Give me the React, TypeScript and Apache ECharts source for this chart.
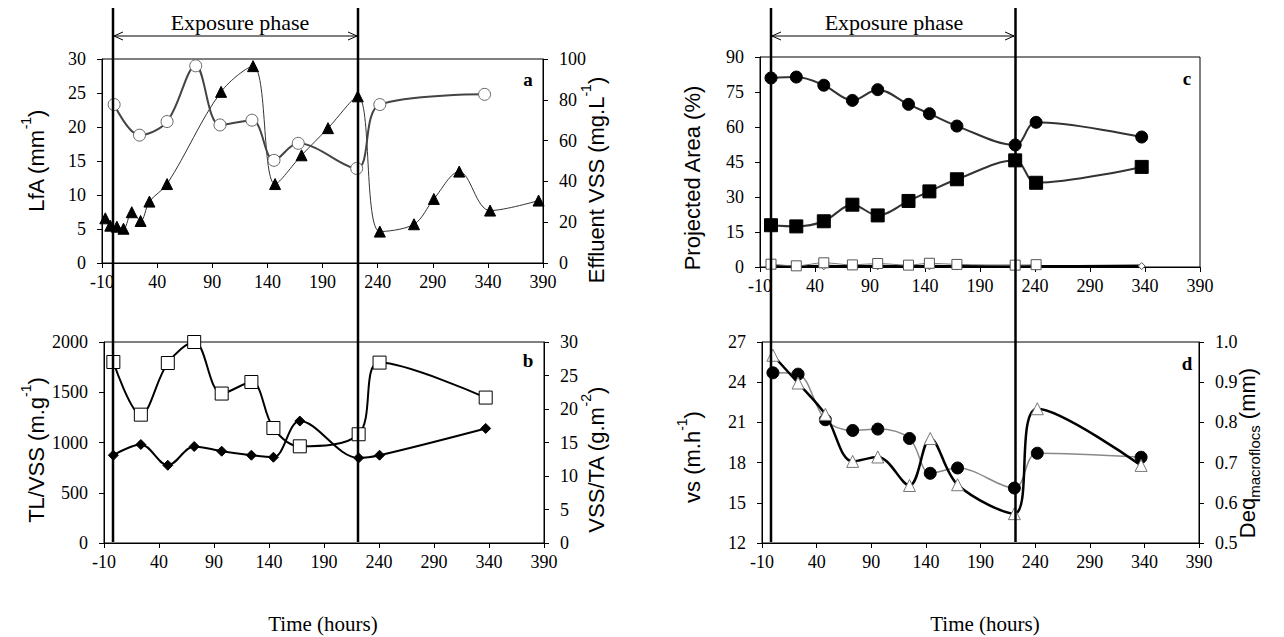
import React, { useEffect, useRef } from "react";
import * as echarts from "echarts";

// ---------- Panel a ----------
const hoursLfA = [1, 24, 49, 75, 97, 126, 146, 168, 221, 242, 337];
const lfa = [23.3, 18.8, 20.8, 29.0, 20.3, 21.0, 15.1, 17.6, 13.9, 23.3, 24.8];
const hoursEffVSS = [-7, -2.5, 3.5, 9.5, 17, 25, 33, 49, 98, 127, 147, 171, 195, 222, 242, 273, 291, 314, 342, 386];
const effluentVSS = [21.9, 18.3, 17.8, 16.8, 24.9, 20.6, 30.1, 38.7, 83.9, 96.5, 38.7, 52.8, 66.1, 81.7, 15.4, 19.0, 31.4, 44.8, 25.7, 30.6];

// ---------- Panel b ----------
const hoursB = [-1.5, 23.5, 48, 72, 97, 124, 144, 168, 221.5, 240.5, 337];
const tlVss = [1801, 1277, 1791, 2000, 1487, 1602, 1144, 962, 1082, 1795, 1447];
const vssTa = [13.1, 14.7, 11.6, 14.4, 13.7, 13.1, 12.8, 18.2, 12.7, 13.1, 17.1];

// ---------- Panel c ----------
const hoursC = [0, 23, 48, 74, 97, 125, 144, 169, 222, 241, 337];
const areaCircles = [81.0, 81.4, 77.9, 71.4, 76.0, 69.7, 65.7, 60.4, 52.3, 62.0, 55.7];
const areaSquares = [17.9, 17.4, 19.6, 26.7, 22.1, 28.3, 32.4, 37.6, 45.7, 36.1, 42.9];
const hoursCOpen = [0, 23, 48, 74, 97, 125, 144, 169, 222, 241];
const areaOpenSquares = [1.2, 0.5, 1.8, 0.9, 1.5, 0.8, 1.6, 1.1, 0.8, 1.0];
const areaDiamonds = [0.3, 0.2, 0.3, 0.2, 0.3, 0.2, 0.3, 0.2, 0.3, 0.2, 0.4];

// ---------- Panel d ----------
const hoursD = [0, 23, 48, 73, 96, 125, 144, 169, 221, 242, 337];
const vsSettling = [24.7, 24.6, 21.2, 20.4, 20.5, 19.8, 17.2, 17.6, 16.1, 18.7, 18.4];
const deqMacro = [0.967, 0.898, 0.82, 0.703, 0.714, 0.643, 0.76, 0.645, 0.573, 0.834, 0.693];

const pairs = (xs: number[], ys: number[]) => xs.map((x, i) => [x, ys[i]]);

const SERIF = '"Liberation Serif", "Times New Roman", serif';
const SANS = '"Liberation Sans", Arial, sans-serif';

export default function App() {
  const ref = useRef<HTMLDivElement>(null);

  useEffect(() => {
    if (!ref.current) return;
    const chart = echarts.init(ref.current, undefined, { renderer: "svg" });

    const grids = [
      { left: 102, top: 59, width: 441, height: 204 },
      { left: 104, top: 342, width: 440, height: 201 },
      { left: 760, top: 57, width: 440, height: 210 },
      { left: 762, top: 342, width: 437, height: 201 },
    ].map((g) => ({ ...g, show: true, borderColor: "#000", borderWidth: 1, backgroundColor: "transparent" }));

    const xAxisFor = (gi: number) => ({
      type: "value",
      gridIndex: gi,
      min: -10,
      max: 390,
      interval: 50,
      axisLine: { show: true, onZero: false, lineStyle: { color: "#000", width: 1 } },
      axisTick: { show: true, length: 5, lineStyle: { color: "#000" } },
      axisLabel: { color: "#000", fontFamily: SERIF, fontSize: 18, margin: 10, formatter: (v: number) => String(v) },
      splitLine: { show: false },
    });

    const yAxisFor = (gi: number, min: number, max: number, interval: number, position: string, fmt?: (v: number) => string) => ({
      type: "value",
      gridIndex: gi,
      min,
      max,
      interval,
      position,
      axisLine: { show: true, onZero: false, lineStyle: { color: "#000", width: 1 } },
      axisTick: { show: true, length: 5, lineStyle: { color: "#000" } },
      axisLabel: {
        color: "#000",
        fontFamily: SERIF,
        fontSize: 18,
        margin: 16,
        formatter: fmt ? fmt : (v: number) => String(v),
      },
      splitLine: { show: false },
    });

    const yAxes = [
      yAxisFor(0, 0, 30, 5, "left"), // 0
      yAxisFor(0, 0, 100, 20, "right"), // 1
      yAxisFor(1, 0, 2000, 500, "left"), // 2
      yAxisFor(1, 0, 30, 5, "right"), // 3
      yAxisFor(2, 0, 90, 15, "left"), // 4
      yAxisFor(3, 12, 27, 3, "left"), // 5
      yAxisFor(3, 0.5, 1.0, 0.1, "right", (v: number) => v.toFixed(1)), // 6
    ];

    const lineSeries = (
      name: string,
      xi: number,
      yi: number,
      data: number[][],
      symbol: string,
      size: number,
      fill: string,
      border: string,
      lineColor: string,
      lineWidth: number,
      smooth: number = 0.35
    ) => ({
      name,
      type: "line",
      xAxisIndex: xi,
      yAxisIndex: yi,
      data,
      smooth,
      symbol,
      symbolSize: size,
      showSymbol: true,
      itemStyle: { color: fill, borderColor: border, borderWidth: 1 },
      lineStyle: { color: lineColor, width: lineWidth },
      emphasis: { disabled: true },
      z: 3,
    });

    const series = [
      // a
      lineSeries("Effluent VSS", 0, 1, pairs(hoursEffVSS, effluentVSS), "triangle", 11, "#000", "#000", "#333", 1),
      lineSeries("LfA", 0, 0, pairs(hoursLfA, lfa), "circle", 12, "#fff", "#666", "#444", 2),
      // b
      lineSeries("VSS/TA", 1, 3, pairs(hoursB, vssTa), "diamond", 10, "#000", "#000", "#000", 2),
      lineSeries("TL/VSS", 1, 2, pairs(hoursB, tlVss), "rect", 13, "#fff", "#000", "#000", 2),
      // c
      lineSeries("Area circles", 2, 4, pairs(hoursC, areaCircles), "circle", 12, "#000", "#000", "#333", 2),
      lineSeries("Area squares", 2, 4, pairs(hoursC, areaSquares), "rect", 13, "#000", "#000", "#333", 2),
      lineSeries("Area diamonds", 2, 4, pairs(hoursC, areaDiamonds), "diamond", 7, "#fff", "#555", "#000", 3),
      lineSeries("Area open squares", 2, 4, pairs(hoursCOpen, areaOpenSquares), "rect", 10, "#fff", "#555", "#777", 1),
      // d
      lineSeries("vs", 3, 5, pairs(hoursD, vsSettling), "circle", 12, "#000", "#000", "#888", 1.5),
      lineSeries("Deq", 3, 6, pairs(hoursD, deqMacro), "triangle", 12, "#fff", "#777", "#000", 2.5),
    ];

    const vline = (x: number) => ({
      type: "line",
      z: 50,
      shape: { x1: x, y1: 8, x2: x, y2: 542 },
      style: { stroke: "#000", lineWidth: 2.5 },
    });

    const arrow = (x1: number, x2: number, y: number) => [
      { type: "line", z: 50, shape: { x1, y1: y, x2, y2: y }, style: { stroke: "#000", lineWidth: 1 } },
      {
        type: "polyline",
        z: 50,
        shape: { points: [[x1 + 9, y - 4], [x1, y], [x1 + 9, y + 4]] },
        style: { stroke: "#000", lineWidth: 1, fill: null },
      },
      {
        type: "polyline",
        z: 50,
        shape: { points: [[x2 - 9, y - 4], [x2, y], [x2 - 9, y + 4]] },
        style: { stroke: "#000", lineWidth: 1, fill: null },
      },
    ];

    const txt = (x: number, y: number, text: string, font: string) => ({
      type: "text",
      z: 60,
      x,
      y,
      style: {
        text,
        font,
        fill: "#000",
        align: "center",
        verticalAlign: "middle",
        textAlign: "center",
        textVerticalAlign: "middle",
      },
    });

    const richTitle = (x: number, y: number, text: string, rich: any) => ({
      type: "text",
      z: 60,
      x,
      y,
      rotation: Math.PI / 2,
      style: {
        text,
        rich,
        fill: "#000",
        align: "center",
        verticalAlign: "middle",
        textAlign: "center",
        textVerticalAlign: "middle",
      },
    });

    const supRich = {
      n: { fontFamily: SANS, fontSize: 22, lineHeight: 28, verticalAlign: "bottom", fill: "#000", color: "#000" },
      s: { fontFamily: SANS, fontSize: 14, lineHeight: 28, verticalAlign: "top", fill: "#000", color: "#000" },
      b: { fontFamily: SANS, fontSize: 15, lineHeight: 28, verticalAlign: "bottom", fill: "#000", color: "#000", padding: [0, 0, -4, 0] },
    };

    const graphic = [
      vline(113),
      vline(358),
      vline(771),
      vline(1015.5),
      ...arrow(114, 357, 36),
      ...arrow(772, 1014, 36),
      txt(240, 22, "Exposure phase", `22px ${SERIF}`),
      txt(894, 22, "Exposure phase", `22px ${SERIF}`),
      txt(528, 79, "a", `bold 19px ${SERIF}`),
      txt(528, 360, "b", `bold 19px ${SERIF}`),
      txt(1187, 78, "c", `bold 19px ${SERIF}`),
      txt(1187, 363, "d", `bold 19px ${SERIF}`),
      txt(323, 624, "Time (hours)", `21px ${SERIF}`),
      txt(985, 624, "Time (hours)", `21px ${SERIF}`),
      richTitle(33, 161, "{n|LfA (mm}{s|-1}{n|)}", supRich),
      richTitle(593, 180, "{n|Effluent VSS (mg.L}{s|-1}{n|)}", supRich),
      richTitle(33, 450, "{n|TL/VSS (m.g}{s|-1}{n|)}", supRich),
      richTitle(593, 460, "{n|VSS/TA (g.m}{s|-2}{n|)}", supRich),
      richTitle(689, 178, "{n|Projected Area (%)}", supRich),
      richTitle(689, 457, "{n|vs (m.h}{s|-1}{n|)}", supRich),
      richTitle(1244, 453, "{n|Deq}{b|macroflocs}{n| (mm)}", supRich),
    ];

    chart.setOption({
      animation: false,
      backgroundColor: "#fff",
      grid: grids,
      xAxis: [xAxisFor(0), xAxisFor(1), xAxisFor(2), xAxisFor(3)],
      yAxis: yAxes,
      series,
      graphic,
    });

    return () => chart.dispose();
  }, []);

  return (
    <div
      ref={ref}
      style={{ position: "fixed", left: 0, top: 0, width: 1284, height: 637, background: "#fff" }}
    />
  );
}
